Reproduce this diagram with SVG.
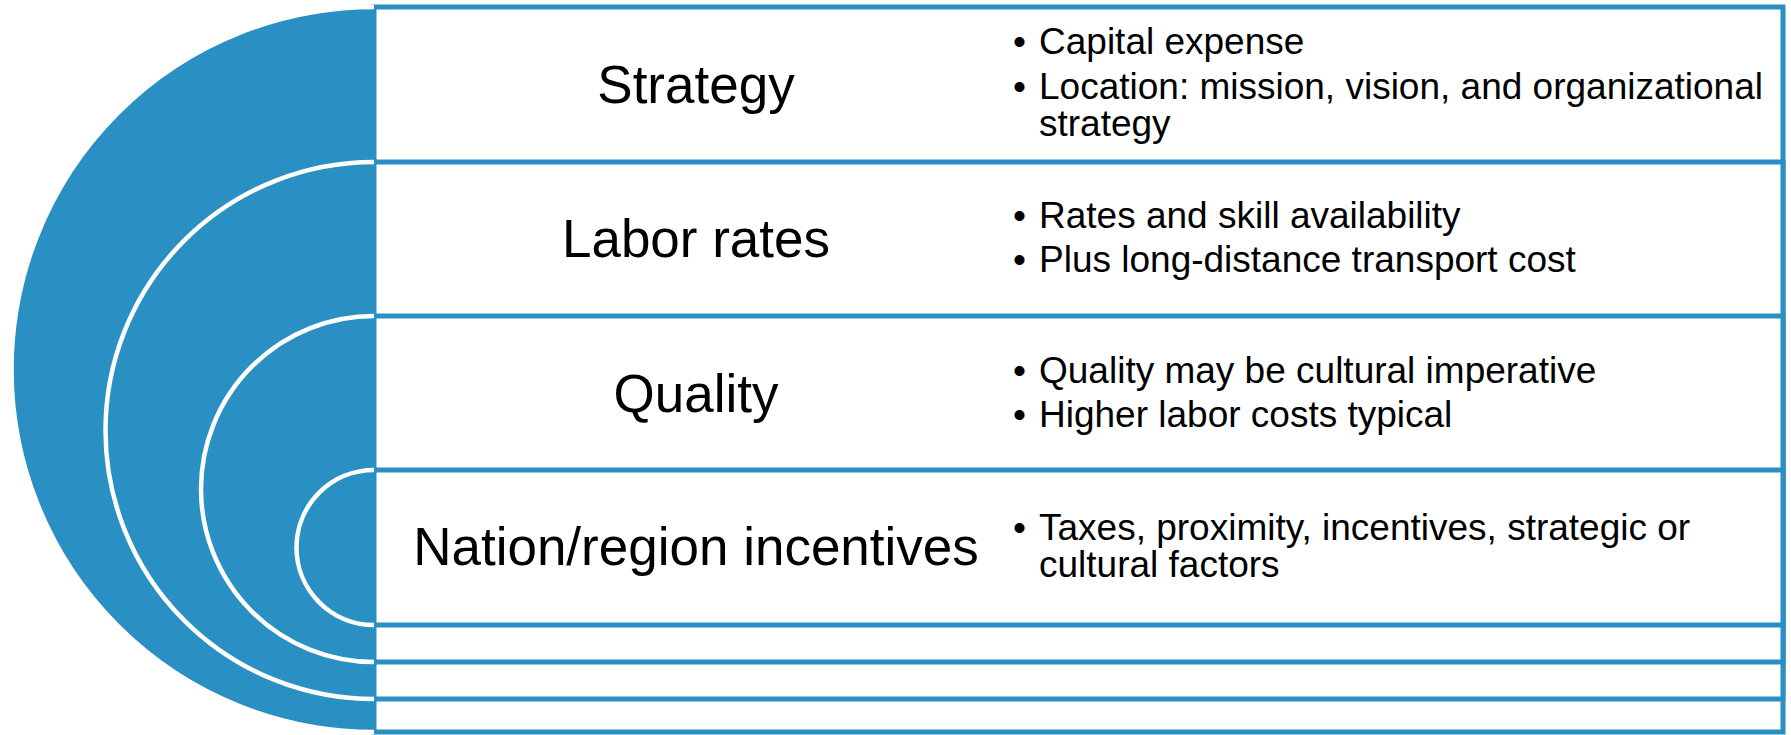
<svg xmlns="http://www.w3.org/2000/svg" width="1791" height="735" viewBox="0 0 1791 735">
<style>
.box{fill:#ffffff;stroke:#2A8FC3;stroke-width:5}
.half{fill:#2A8FC3;stroke:#ffffff;stroke-width:4.5}
.title{font-family:"Liberation Sans",Arial,sans-serif;font-size:53px;fill:#000000;text-anchor:middle}
.bul{font-family:"Liberation Sans",Arial,sans-serif;font-size:37px;fill:#000000}
</style>
<rect x="0" y="0" width="1791" height="735" fill="#ffffff"/>
<g id="node-strategy">
<rect class="box" x="374" y="7" width="1409" height="725"/>
<path class="half" d="M374,7 A362.5,362.5 0 0 0 374,732"/>
<text class="title" x="696" y="103">Strategy</text>
<text class="bul" x="1013" y="54">•</text><text class="bul" x="1039" y="54">Capital expense</text>
<text class="bul" x="1013" y="99">•</text><text class="bul" x="1039" y="99">Location: mission, vision, and organizational</text>
<text class="bul" x="1039" y="136">strategy</text>
</g>
<g id="node-labor">
<rect class="box" x="374" y="162" width="1409" height="537"/>
<path class="half" d="M374,162 A268.5,268.5 0 0 0 374,699"/>
<text class="title" x="696" y="257">Labor rates</text>
<text class="bul" x="1013" y="228">•</text><text class="bul" x="1039" y="228">Rates and skill availability</text>
<text class="bul" x="1013" y="272">•</text><text class="bul" x="1039" y="272">Plus long-distance transport cost</text>
</g>
<g id="node-quality">
<rect class="box" x="374" y="316" width="1409" height="346"/>
<path class="half" d="M374,316 A173,173 0 0 0 374,662"/>
<text class="title" x="696" y="412">Quality</text>
<text class="bul" x="1013" y="383">•</text><text class="bul" x="1039" y="383">Quality may be cultural imperative</text>
<text class="bul" x="1013" y="427">•</text><text class="bul" x="1039" y="427">Higher labor costs typical</text>
</g>
<g id="node-nation">
<rect class="box" x="374" y="470" width="1409" height="155"/>
<path class="half" d="M374,470 A77.5,77.5 0 0 0 374,625"/>
<text class="title" x="696" y="565">Nation/region incentives</text>
<text class="bul" x="1013" y="540">•</text><text class="bul" x="1039" y="540">Taxes, proximity, incentives, strategic or</text>
<text class="bul" x="1039" y="577">cultural factors</text>
</g>
<g id="connectors"></g>
</svg>
